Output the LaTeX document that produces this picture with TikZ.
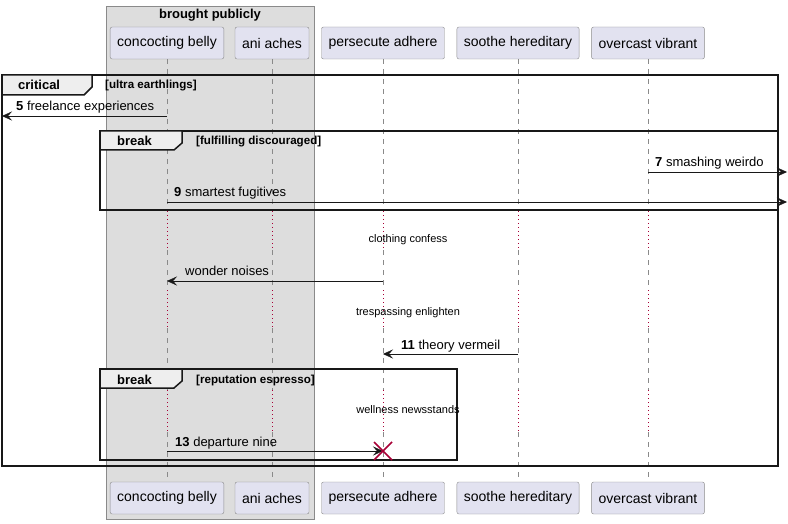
\documentclass[tikz,border=0pt]{standalone}
\usepackage{fontspec}
\setmainfont{Liberation Sans}
\usetikzlibrary{arrows.meta}
\definecolor{partfill}{HTML}{E2E2F0}
\definecolor{partline}{HTML}{8A8A8A}
\definecolor{boxfill}{HTML}{DDDDDD}
\definecolor{tabfill}{HTML}{EEEEEE}
\definecolor{delayred}{HTML}{A80036}
\definecolor{ink}{HTML}{181818}
\begin{document}
\begin{tikzpicture}[x=1pt,y=-1pt,
    part/.style={draw=partline, fill=partfill, rounded corners=2pt, minimum height=32pt, inner xsep=7pt, font=\fontsize{14}{16}\selectfont},
    life/.style={partline, dash pattern=on 5pt off 5pt},
    delayline/.style={delayred, dash pattern=on 1pt off 3pt},
    msgarr/.style={ink, -{Stealth[length=10pt,width=9pt,inset=4pt]}},
    msgtxt/.style={inner sep=0pt, anchor=base west, font=\fontsize{13}{15}\selectfont},
    delaytxt/.style={inner sep=0pt, anchor=base, font=\fontsize{11}{13}\selectfont},
    frame/.style={ink, line width=1.5pt},
    tab/.style={frame, fill=tabfill},
    tabtxt/.style={inner sep=0pt, anchor=base west, font=\bfseries\fontsize{13}{15}\selectfont},
    condtxt/.style={inner sep=0pt, anchor=base west, font=\bfseries\fontsize{11.6}{13}\selectfont}]
\useasboundingbox (0,0) rectangle (788,524);
% box
\filldraw[draw=partline, fill=boxfill] (106,6) rectangle (314,519);
\node[inner sep=0pt, anchor=base, font=\bfseries\fontsize{13}{15}\selectfont] (boxtitle) at (210,19) {brought publicly};
% participants
\node[part] (cb) at (167,43) {concocting belly};
\node[part] (aa) at (272,43) {ani aches};
\node[part] (pa) at (383,43) {persecute adhere};
\node[part] (sh) at (518,43) {soothe hereditary};
\node[part] (ov) at (648,43) {overcast vibrant};
\node[part] (cb2) at (167,498) {concocting belly};
\node[part] (aa2) at (272,498) {ani aches};
\node[part] (pa2) at (383,498) {persecute adhere};
\node[part] (sh2) at (518,498) {soothe hereditary};
\node[part] (ov2) at (648,498) {overcast vibrant};
% lifelines
\foreach \p in {cb,aa,pa,sh,ov}{
    \draw[life] (\p.south) -- (\p |- 0,211);
    \draw[life] (\p |- 0,250) -- (\p |- 0,290);
    \draw[life] (\p |- 0,328) -- (\p |- 0,390);
    \draw[life] (\p |- 0,432) -- (\p2.north);
    \foreach \a/\b in {211/250,290/328,390/432}
        \draw[delayline] (\p |- 0,\a) -- (\p |- 0,\b);
}
% critical
\draw[frame] (2,75) rectangle (778,466);
\draw[tab] (2,75) -- (92,75) -- (92,87) -- (84,95) -- (2,95) -- cycle;
\node[tabtxt] (crit) at (18,90) {critical};
\node[condtxt] (critc) at (105,89) {[ultra earthlings]};
\coordinate (lft) at (2,116);
\draw[msgarr] (cb |- lft) -- (lft);
\node[msgtxt] (t5) at (16,111) {\textbf{5} freelance experiences};
% break 1
\draw[frame] (100,131) rectangle (778,210);
\draw[tab] (100,131) -- (182,131) -- (182,143) -- (174,150) -- (100,150) -- cycle;
\node[tabtxt] (brk1) at (117,146) {break};
\node[condtxt] (brk1c) at (196,145) {[fulfilling discouraged]};
\coordinate (rgt7) at (787,172);
\draw[msgarr] (ov |- rgt7) -- (rgt7);
\node[msgtxt] (t7) at (655,167) {\textbf{7} smashing weirdo};
\coordinate (rgt9) at (787,202);
\draw[msgarr] (cb |- rgt9) -- (rgt9);
\node[msgtxt] (t9) at (174,197) {\textbf{9} smartest fugitives};
% delays and messages
\node[delaytxt] (d1) at (408,243) {clothing confess};
\coordinate (m10) at (0,281);
\draw[msgarr] (pa |- m10) -- (cb |- m10);
\node[msgtxt] (t10) at (185,276) {wonder noises};
\node[delaytxt] (d2) at (408,315) {trespassing enlighten};
\coordinate (m11) at (0,354);
\draw[msgarr] (sh |- m11) -- (pa |- m11);
\node[msgtxt] (t11) at (401,349) {\textbf{11} theory vermeil};
% break 2
\draw[frame] (100,369) rectangle (457,460);
\draw[tab] (100,369) -- (182,369) -- (182,381) -- (174,388) -- (100,388) -- cycle;
\node[tabtxt] (brk2) at (117,384) {break};
\node[condtxt] (brk2c) at (196,383) {[reputation espresso]};
\node[delaytxt] (d3) at (408,413) {wellness newsstands};
\coordinate (m13) at (0,451);
\coordinate (kill) at (pa |- m13);
\draw[msgarr] (cb |- m13) -- (kill);
\node[msgtxt] (t13) at (175,446) {\textbf{13} departure nine};
\draw[delayred, line width=1.5pt] (kill) ++(-9,-9) -- ++(18,18) (kill) ++(-9,9) -- ++(18,-18);
\end{tikzpicture}
\end{document}
